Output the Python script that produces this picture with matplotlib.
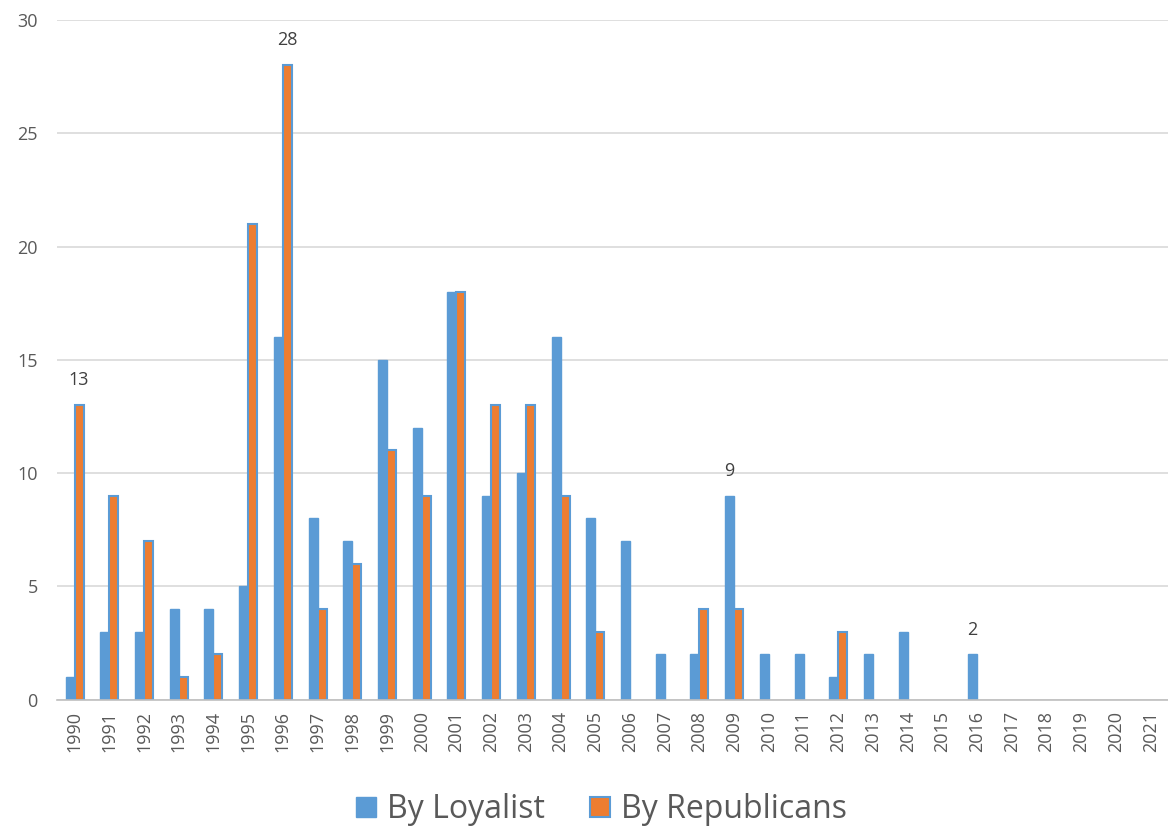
import numpy as np
import matplotlib
matplotlib.use("Agg")
import matplotlib.pyplot as plt

years = [str(y) for y in range(1990, 2022)]
loyalist = [1, 3, 3, 4, 4, 5, 16, 8, 7, 15, 12, 18, 9, 10, 16, 8, 7, 2, 2, 9,
            2, 2, 1, 2, 3, 0, 2, 0, 0, 0, 0, 0]
republicans = [13, 9, 7, 1, 2, 21, 28, 4, 6, 11, 9, 18, 13, 13, 9, 3, 0, 0, 4, 4,
               0, 0, 3, 0, 0, 0, 0, 0, 0, 0, 0, 0]
# values that carry a data label in the original
labels_rep = {"1990": 13, "1996": 28}
labels_loy = {"2009": 9, "2016": 2}

blue = "#5B9BD5"
orange = "#ED7D31"
grey = "#595959"

plt.rcParams['font.family'] = ['Open Sans', 'DejaVu Sans']

fig = plt.figure(figsize=(11.68, 8.33), dpi=100)
ax = fig.add_axes([0.049, 0.16, 0.951, 0.816])

x = np.arange(len(years))
w = 0.26
lw_loy = [1 if v else 0 for v in loyalist]
lw_rep = [1.5 if v else 0 for v in republicans]
ax.bar(x - w / 2, loyalist, w, color=blue, edgecolor=blue, linewidth=lw_loy,
       label="By Loyalist", zorder=3)
ax.bar(x + w / 2, republicans, w, color=orange, edgecolor=blue, linewidth=lw_rep,
       label="By Republicans", zorder=3)

for i, yr in enumerate(years):
    if yr in labels_rep:
        ax.text(x[i] + w / 2, republicans[i] + 0.7, str(labels_rep[yr]),
                ha="center", va="bottom", fontsize=13, color="#404040")
    if yr in labels_loy:
        ax.text(x[i] - w / 2, loyalist[i] + 0.7, str(labels_loy[yr]),
                ha="center", va="bottom", fontsize=13, color="#404040")

ax.set_xlim(-0.5, len(years) - 0.5)
ax.set_ylim(0, 30)
ax.set_yticks(range(0, 31, 5))
ax.set_xticks(x)
ax.set_xticklabels(years, rotation=90, fontsize=13, color=grey)
ax.tick_params(axis="y", labelsize=13, labelcolor=grey, length=0, pad=14)
ax.tick_params(axis="x", length=0, pad=8)
ax.grid(axis="y", color="#D9D9D9", linewidth=1.2, zorder=0)
for s in ["top", "right", "left"]:
    ax.spines[s].set_visible(False)
ax.spines["bottom"].set_color("#BFBFBF")
ax.spines["bottom"].set_linewidth(1.2)
ax.spines["bottom"].set_zorder(4)

leg = fig.legend(loc="center", bbox_to_anchor=(0.515, 0.028), ncol=2,
                 frameon=False, fontsize=23, handlelength=0.62, handleheight=0.62,
                 handletextpad=0.35, columnspacing=1.4)
for t in leg.get_texts():
    t.set_color(grey)

fig.savefig("out.png", dpi=100)
